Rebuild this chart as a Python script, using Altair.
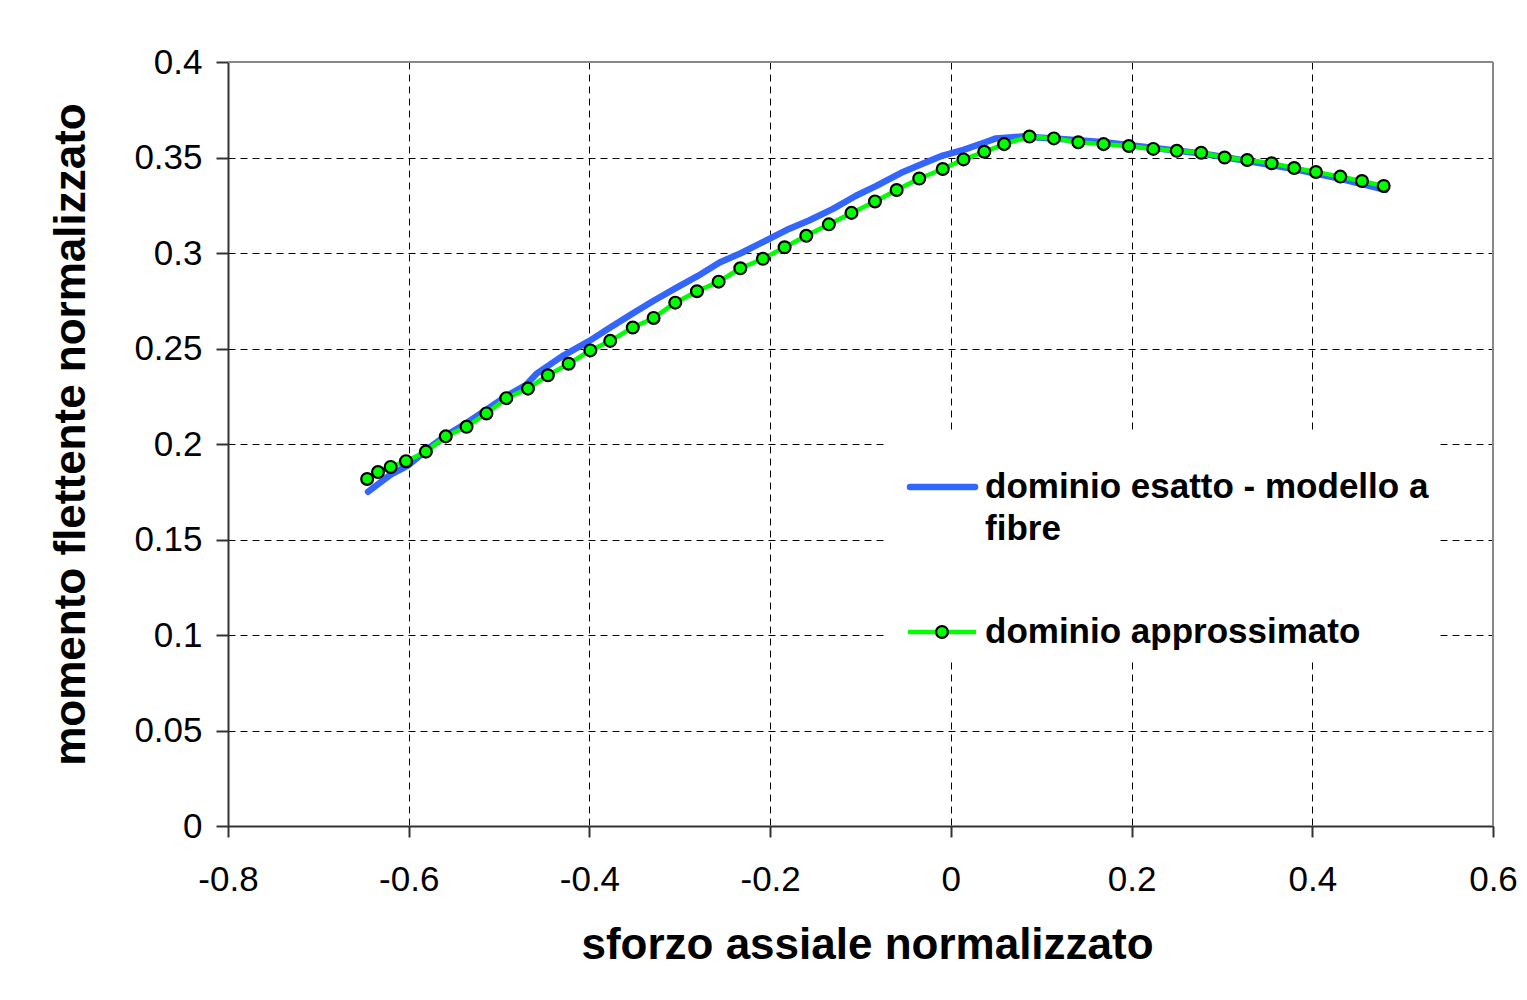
import altair as alt
import pandas as pd

# ---- data ----
approx_n = [-0.646, -0.634, -0.620, -0.603, -0.581, -0.559, -0.536, -0.514, -0.492, -0.468,
            -0.446, -0.423, -0.399, -0.377, -0.352, -0.329, -0.305, -0.281, -0.257, -0.233,
            -0.208, -0.184, -0.160, -0.135, -0.110, -0.084, -0.060, -0.035, -0.009, 0.014,
            0.037, 0.059, 0.087, 0.114, 0.141, 0.169, 0.197, 0.224, 0.250, 0.277,
            0.303, 0.328, 0.355, 0.380, 0.404, 0.431, 0.455, 0.479]
approx_m = [0.1817, 0.1853, 0.188, 0.191, 0.196, 0.204, 0.209, 0.216, 0.224, 0.229,
            0.236, 0.242, 0.249, 0.254, 0.261, 0.266, 0.274, 0.280, 0.285, 0.292,
            0.297, 0.303, 0.309, 0.315, 0.321, 0.327, 0.333, 0.339, 0.344, 0.349,
            0.353, 0.357, 0.361, 0.360, 0.358, 0.357, 0.356, 0.3545, 0.3535, 0.3525,
            0.350, 0.3487, 0.347, 0.3445, 0.3424, 0.340, 0.3377, 0.3351]

exact_n = [-0.645, -0.62, -0.60, -0.58, -0.56, -0.536, -0.514, -0.492, -0.470, -0.458,
           -0.43, -0.40, -0.377, -0.35, -0.329, -0.303, -0.280, -0.256, -0.232, -0.207,
           -0.182, -0.157, -0.131, -0.105, -0.083, -0.055, -0.030, -0.009, 0.014, 0.038,
           0.050, 0.079, 0.115, 0.170, 0.225, 0.280, 0.330, 0.380, 0.430, 0.481]
exact_m = [0.175, 0.184, 0.189, 0.197, 0.204, 0.211, 0.218, 0.225, 0.231, 0.237,
           0.246, 0.254, 0.261, 0.269, 0.275, 0.282, 0.288, 0.295, 0.300, 0.306,
           0.312, 0.317, 0.323, 0.330, 0.335, 0.342, 0.347, 0.351, 0.354, 0.358,
           0.360, 0.361, 0.360, 0.358, 0.355, 0.352, 0.348, 0.344, 0.339, 0.333]

x_ticks = [-0.8, -0.6, -0.4, -0.2, 0, 0.2, 0.4, 0.6]
y_ticks = [0, 0.05, 0.1, 0.15, 0.2, 0.25, 0.3, 0.35, 0.4]

x_title = "sforzo assiale normalizzato"
y_title = "momento flettente normalizzato"
legend_exact_line1 = "dominio esatto - modello a"
legend_exact_line2 = "fibre"
legend_approx = "dominio approssimato"

# ---- styling ----
W, H = 1265, 764
FONT = "Liberation Sans"
BLUE = "#3366FF"
GREEN = "#00FF00"
AXIS_COL = "#333333"
BORDER_COL = "#888888"

exact_df = pd.DataFrame({"n": exact_n, "m": exact_m, "ord": list(range(len(exact_n)))})
approx_df = pd.DataFrame({"n": approx_n, "m": approx_m, "ord": list(range(len(approx_n)))})
one = alt.Data(values=[{}])

x_scale = alt.Scale(domain=[-0.8, 0.6], nice=False, zero=False)
y_scale = alt.Scale(domain=[0, 0.4], nice=False, zero=False)

x_axis = alt.Axis(
    values=x_ticks, labelExpr="toString(datum.value)", title=x_title,
    grid=True, gridDash=[7, 5], gridColor="black", gridWidth=1, gridOpacity=1,
    domainColor=AXIS_COL, domainWidth=2, tickColor=AXIS_COL, tickWidth=2, tickSize=11,
    labelPadding=25, labelFont=FONT, labelFontSize=35, labelColor="black",
    labelFlush=False, labelOverlap=False,
    titleFont=FONT, titleFontSize=44, titleFontWeight="bold", titleColor="black",
    titleX=639, titleY=132, titleBaseline="alphabetic", titleAlign="center",
)
y_axis = alt.Axis(
    values=y_ticks, labelExpr="toString(datum.value)", title=y_title,
    grid=True, gridDash=[7, 5], gridColor="black", gridWidth=1, gridOpacity=1,
    domainColor=AXIS_COL, domainWidth=2, tickColor=AXIS_COL, tickWidth=2, tickSize=12,
    labelPadding=14, labelFont=FONT, labelFontSize=35, labelColor="black",
    labelFlush=False, labelOverlap=False,
    titleFont=FONT, titleFontSize=44, titleFontWeight="bold", titleColor="black",
    titleX=-144, titleY=372, titleAngle=270, titleBaseline="alphabetic", titleAlign="center",
)

# legend white background (hides grid behind the legend box)
legend_bg = alt.Chart(one).mark_rect(fill="white", stroke="white").encode(
    x=alt.value(658), x2=alt.value(1208), y=alt.value(371), y2=alt.value(598)
)

exact_line = alt.Chart(exact_df).mark_line(
    color=BLUE, strokeWidth=6.5, strokeCap="round", strokeJoin="round"
).encode(
    x=alt.X("n:Q", scale=x_scale, axis=x_axis),
    y=alt.Y("m:Q", scale=y_scale, axis=y_axis),
    order="ord:Q",
)

approx_line = alt.Chart(approx_df).mark_line(
    color=GREEN, strokeWidth=4.5, strokeJoin="round"
).encode(x="n:Q", y="m:Q", order="ord:Q")

approx_pts = alt.Chart(approx_df).mark_point(
    shape="circle", filled=True, fill=GREEN, stroke="black", strokeWidth=2.2, size=140, opacity=1
).encode(x="n:Q", y="m:Q")

# legend items
leg_blue = alt.Chart(one).mark_rule(color=BLUE, strokeWidth=6.5, strokeCap="round").encode(
    x=alt.value(682), x2=alt.value(747), y=alt.value(425)
)
leg_green = alt.Chart(one).mark_rule(color=GREEN, strokeWidth=4.5).encode(
    x=alt.value(680), x2=alt.value(748), y=alt.value(570)
)
leg_pt = alt.Chart(one).mark_point(
    shape="circle", filled=True, fill=GREEN, stroke="black", strokeWidth=2.2, size=140, opacity=1
).encode(x=alt.value(714), y=alt.value(570))

txt_kw = dict(align="left", baseline="alphabetic", font=FONT, fontSize=35,
              fontWeight="bold", color="black")
leg_t1 = alt.Chart(one).mark_text(**txt_kw).encode(
    x=alt.value(757), y=alt.value(436), text=alt.value(legend_exact_line1))
leg_t2 = alt.Chart(one).mark_text(**txt_kw).encode(
    x=alt.value(757), y=alt.value(478), text=alt.value(legend_exact_line2))
leg_t3 = alt.Chart(one).mark_text(**txt_kw).encode(
    x=alt.value(757), y=alt.value(581), text=alt.value(legend_approx))

# gray frame on top and right of plot area
border_top = alt.Chart(one).mark_rule(color=BORDER_COL, strokeWidth=2).encode(
    x=alt.value(0), x2=alt.value(W), y=alt.value(0))
border_right = alt.Chart(one).mark_rule(color=BORDER_COL, strokeWidth=2).encode(
    x=alt.value(W), y=alt.value(0), y2=alt.value(H))

chart = alt.layer(
    exact_line, legend_bg, approx_line, approx_pts,
    leg_blue, leg_green, leg_pt, leg_t1, leg_t2, leg_t3,
    border_top, border_right,
).properties(
    width=W, height=H,
    autosize=alt.AutoSizeParams(type="none"),
    padding={"left": 220, "top": 54, "right": 26, "bottom": 160},
    background="white",
).configure_view(stroke="transparent")

chart.save("out.html", embed_options={"renderer": "svg", "actions": False})
